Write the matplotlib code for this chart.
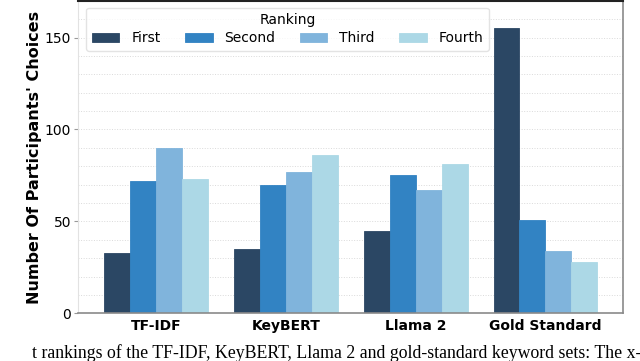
import matplotlib
matplotlib.use("Agg")
import matplotlib.pyplot as plt
from matplotlib.ticker import MultipleLocator
import numpy as np

# data
methods = ["TF-IDF", "KeyBERT", "Llama 2", "Gold Standard"]
rankings = ["First", "Second", "Third", "Fourth"]
first = [33, 35, 45, 155]
second = [72, 70, 75, 51]
third = [90, 77, 67, 34]
fourth = [73, 86, 81, 28]
colors = ["#2b4764", "#3283c3", "#80b4dc", "#acd8e6"]

caption = "t rankings of the TF-IDF, KeyBERT, Llama 2 and gold-standard keyword sets: The x-"

fig = plt.figure(figsize=(6.4, 3.61), dpi=100)
ax = fig.add_axes([0.122, 0.132, 0.852, 0.866])

x = np.arange(len(methods))
width = 0.2
series = [first, second, third, fourth]
for i, vals in enumerate(series):
    ax.bar(x + (i - 1.5) * width, vals, width, color=colors[i],
           edgecolor=colors[i], linewidth=0.6, label=rankings[i], zorder=2)

ax.set_xlim(-0.6, 3.6)
ax.set_ylim(0, 170)
ax.yaxis.set_major_locator(MultipleLocator(50))
ax.yaxis.set_minor_locator(MultipleLocator(10))
ax.grid(axis="y", which="both", linestyle=":", color="#dadada", linewidth=0.7, zorder=0)
ax.set_axisbelow(True)

ax.set_xticks(x)
ax.set_xticklabels(methods, fontweight="bold", fontsize=10)
ax.tick_params(axis="x", length=0, pad=4)
ax.tick_params(axis="y", which="major", labelsize=10, length=3, color="#999999", pad=2)
ax.tick_params(axis="y", which="minor", length=0)
ax.set_ylabel("Number Of Participants' Choices", fontweight="bold", fontsize=11.5, labelpad=2)

ax.spines["left"].set_color("#e2e2e2")
ax.spines["left"].set_linewidth(0.8)
for side in ["bottom", "right"]:
    ax.spines[side].set_color("#8a8a8a")
    ax.spines[side].set_linewidth(1.2)
ax.spines["top"].set_color("#222222")
ax.spines["top"].set_linewidth(1.5)

leg = ax.legend(title="Ranking", ncol=4, loc="upper left", bbox_to_anchor=(0.0147, 0.978),
                borderaxespad=0, fontsize=10, title_fontsize=10, frameon=True, fancybox=True,
                handlelength=2.0, handleheight=0.7, handletextpad=0.85, columnspacing=1.75,
                borderpad=0.4, labelspacing=0.3)
leg.get_frame().set_edgecolor("#dddddd")
leg.get_frame().set_linewidth(1.0)

fig.text(0.05, 0.022, caption, family="Liberation Serif", fontsize=12.8, va="center", ha="left")

fig.savefig("out.png", dpi=100)
